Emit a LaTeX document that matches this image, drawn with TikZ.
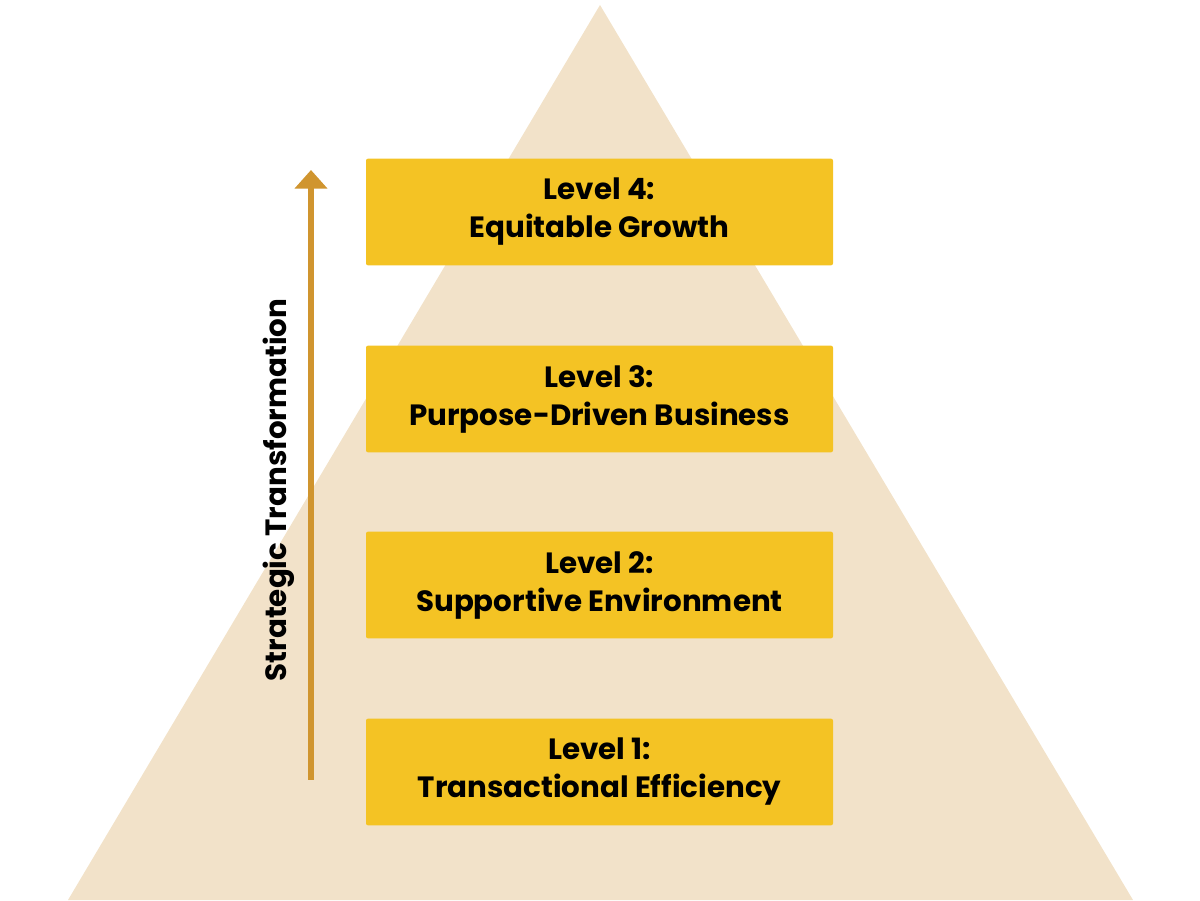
\documentclass[tikz,border=0pt]{standalone}
\usepackage{fontspec}
\setmainfont{Poppins}
\usetikzlibrary{arrows.meta}
\definecolor{pyramid}{HTML}{F2E2C9}
\definecolor{levelbox}{HTML}{F4C324}
\definecolor{arrowcol}{HTML}{D0952F}
\tikzset{level/.style={fill=levelbox,rounded corners=1.5pt,minimum width=350.25pt,minimum height=80pt,align=center,font=\bfseries\fontsize{22}{28.5}\selectfont,inner sep=0pt}}
\begin{document}
\begin{tikzpicture}[x=0.75pt,y=0.75pt]
\useasboundingbox (0,0) rectangle (1200,900);
\fill[pyramid] (600,895) -- (1133,0) -- (68,0) -- cycle;
\foreach \n/\y/\t in {1/128/{Level 1:\\Transactional Efficiency},2/315/{Level 2:\\Supportive Environment},3/501/{Level 3:\\Purpose-Driven Business},4/688/{Level 4:\\Equitable Growth}}
{\node[level] (lvl\n) at (599.5,\y) {\t};}
\coordinate (abot) at (311,120);
\coordinate (atop) at (311,730);
\draw[arrowcol,line width=4.5pt,-{Triangle[length=14pt,width=24pt]}] (abot) -- (atop);
\node[rotate=90,font=\bfseries\fontsize{22}{26}\selectfont] (trans) at (279,410) {Strategic Transformation};
\end{tikzpicture}
\end{document}
